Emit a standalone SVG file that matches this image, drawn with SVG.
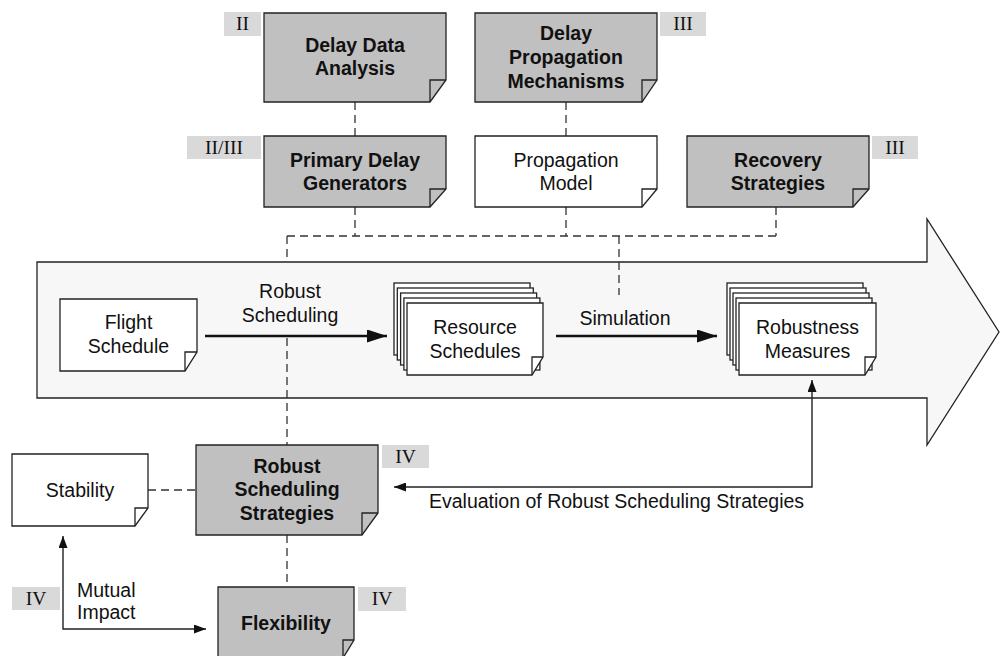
<svg xmlns="http://www.w3.org/2000/svg" width="1000" height="656" viewBox="0 0 1000 656">
<defs>
<style>
.t{font-family:"Liberation Sans",Arial,sans-serif;font-size:19.5px;fill:#111;text-anchor:middle}
.b{font-weight:bold}
.l{text-anchor:start}
.r{font-family:"Liberation Serif","Times New Roman",serif;font-size:19.5px;fill:#111;text-anchor:middle}
.tag{fill:#d9d9d9}
.g{fill:#c0c0c0;stroke:#222;stroke-width:1.3}
.w{fill:#fff;stroke:#222;stroke-width:1.3}
.f{fill:none;stroke:#222;stroke-width:1.3}
.d{fill:none;stroke:#333;stroke-width:1.3;stroke-dasharray:8,5}
.a{fill:none;stroke:#111;stroke-width:2.6}
.s{fill:none;stroke:#222;stroke-width:1.4}
</style>
<marker id="big" markerWidth="20" markerHeight="13" refX="20" refY="6.5" orient="auto" markerUnits="userSpaceOnUse"><path d="M0,0 L20,6.5 L0,13 Z" fill="#111"/></marker>
<marker id="sm" markerWidth="12" markerHeight="9" refX="12" refY="4.5" orient="auto-start-reverse" markerUnits="userSpaceOnUse"><path d="M0,0 L12,4.5 L0,9 Z" fill="#111"/></marker>
</defs>
<rect width="1000" height="656" fill="#fff"/>

<g id="process-arrow">
<path d="M37,262 H927 V219 L999,332 L927,445 V398 H37 Z" fill="#f7f7f7" stroke="#222" stroke-width="1.3"/>
</g>

<g id="connectors">
<path class="d" d="M355,102 V136"/>
<path class="d" d="M566,102 V136"/>
<path class="d" d="M355,207 V236"/>
<path class="d" d="M566,207 V236"/>
<path class="d" d="M776,207 V236"/>
<path class="d" d="M287,236 H776"/>
<path class="d" d="M287,236 V262"/>
<path class="d" d="M287,338 V445"/>
<path class="d" d="M619,236 V295"/>
<path class="d" d="M148,490 H196"/>
<path class="d" d="M287,535 V587"/>
<path class="a" d="M205,336 H387" marker-end="url(#big)"/>
<path class="a" d="M556,336 H717" marker-end="url(#big)"/>
<path class="s" d="M394,487 H812 V380" marker-start="url(#sm)" marker-end="url(#sm)"/>
<path class="s" d="M63,536 V629 H206" marker-start="url(#sm)" marker-end="url(#sm)"/>
<text class="t" x="290" y="298">Robust</text>
<text class="t" x="290" y="322">Scheduling</text>
<text class="t" x="625" y="325">Simulation</text>
<text class="t l" x="429" y="508">Evaluation of Robust Scheduling Strategies</text>
<text class="t l" x="77" y="597">Mutual</text>
<text class="t l" x="77" y="619">Impact</text>
</g>

<g id="delay-data-analysis">
<rect class="tag" x="224" y="12" width="37" height="24"/>
<text class="r" x="242.5" y="30">II</text>
<path class="g" d="M264,13 H446 V80 L430,102 H264 Z"/>
<path class="f" d="M430,102 V80 H446"/>
<text class="t b" x="355" y="52">Delay Data</text>
<text class="t b" x="355" y="75">Analysis</text>
</g>

<g id="delay-propagation-mechanisms">
<rect class="tag" x="660" y="12" width="46" height="24"/>
<text class="r" x="683" y="30">III</text>
<path class="g" d="M475,13 H657 V80 L642,102 H475 Z"/>
<path class="f" d="M642,102 V80 H657"/>
<text class="t b" x="566" y="40">Delay</text>
<text class="t b" x="566" y="64">Propagation</text>
<text class="t b" x="566" y="88">Mechanisms</text>
</g>

<g id="primary-delay-generators">
<rect class="tag" x="187" y="136" width="74" height="23"/>
<text class="r" x="224" y="154">II/III</text>
<path class="g" d="M264,136 H446 V189 L430,207 H264 Z"/>
<path class="f" d="M430,207 V189 H446"/>
<text class="t b" x="355" y="167">Primary Delay</text>
<text class="t b" x="355" y="190">Generators</text>
</g>

<g id="propagation-model">
<path class="w" d="M475,136 H657 V189 L642,207 H475 Z"/>
<path class="f" d="M642,207 V189 H657"/>
<text class="t" x="566" y="167">Propagation</text>
<text class="t" x="566" y="190">Model</text>
</g>

<g id="recovery-strategies">
<rect class="tag" x="872" y="136" width="46" height="23"/>
<text class="r" x="895" y="154">III</text>
<path class="g" d="M687,136 H869 V189 L853,207 H687 Z"/>
<path class="f" d="M853,207 V189 H869"/>
<text class="t b" x="778" y="167">Recovery</text>
<text class="t b" x="778" y="190">Strategies</text>
</g>

<g id="flight-schedule">
<path class="w" d="M60,299 H197 V352 L185,371 H60 Z"/>
<path class="f" d="M185,371 V352 H197"/>
<text class="t" x="128.5" y="329">Flight</text>
<text class="t" x="128.5" y="353">Schedule</text>
</g>

<g id="resource-schedules">
<rect class="w" x="394" y="283" width="136" height="72"/>
<rect class="w" x="397.3" y="288" width="136" height="72"/>
<rect class="w" x="400.6" y="293" width="136" height="72"/>
<rect class="w" x="403.9" y="298" width="136" height="72"/>
<path class="w" d="M407,303 H543 V357 L532,375 H407 Z"/>
<path class="f" d="M532,375 V357 H543"/>
<text class="t" x="475" y="334">Resource</text>
<text class="t" x="475" y="358">Schedules</text>
</g>

<g id="robustness-measures">
<rect class="w" x="727" y="283" width="136" height="72"/>
<rect class="w" x="730" y="288" width="136" height="72"/>
<rect class="w" x="733" y="293" width="136" height="72"/>
<rect class="w" x="736" y="298" width="136" height="72"/>
<path class="w" d="M739,303 H876 V357 L865,375 H739 Z"/>
<path class="f" d="M865,375 V357 H876"/>
<text class="t" x="807.5" y="334">Robustness</text>
<text class="t" x="807.5" y="358">Measures</text>
</g>

<g id="robust-scheduling-strategies">
<rect class="tag" x="382" y="445" width="47" height="23"/>
<text class="r" x="405.5" y="463">IV</text>
<path class="g" d="M196,445 H378 V513 L362,535 H196 Z"/>
<path class="f" d="M362,535 V513 H378"/>
<text class="t b" x="287" y="473">Robust</text>
<text class="t b" x="287" y="496">Scheduling</text>
<text class="t b" x="287" y="520">Strategies</text>
</g>

<g id="stability">
<path class="w" d="M12,454 H148 V508 L135,526 H12 Z"/>
<path class="f" d="M135,526 V508 H148"/>
<text class="t" x="80" y="497">Stability</text>
</g>

<g id="flexibility">
<rect class="tag" x="358" y="587" width="48" height="24"/>
<text class="r" x="382" y="605">IV</text>
<path class="g" d="M218,587 H354 V640 L343,658 H218 Z"/>
<path class="f" d="M343,658 V640 H354"/>
<text class="t b" x="286" y="630">Flexibility</text>
</g>

<g id="mutual-impact-tag">
<rect class="tag" x="12" y="587" width="48" height="23"/>
<text class="r" x="36" y="605">IV</text>
</g>
</svg>
